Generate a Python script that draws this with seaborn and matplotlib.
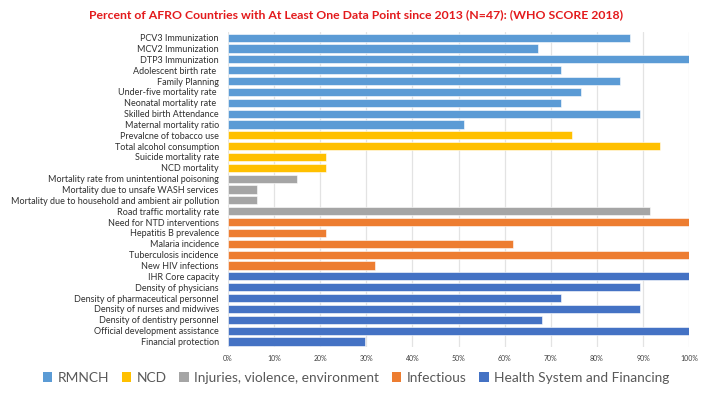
import matplotlib
matplotlib.use("Agg")
import matplotlib.pyplot as plt
import pandas as pd
import seaborn as sns
from matplotlib.patches import Patch

# Indicators, top to bottom
indicators = [
    "PCV3 Immunization", "MCV2 Immunization", "DTP3 Immunization",
    "Adolescent birth rate ", "Family Planning", "Under-five mortality rate ",
    "Neonatal mortality rate ", "Skilled birth Attendance", "Maternal mortality ratio",
    "Prevalcne of tobacco use", "Total alcohol consumption", "Suicide mortality rate",
    "NCD mortality", "Mortality rate from unintentional poisoning",
    "Mortality due to unsafe WASH services",
    "Mortality due to household and ambient air pollution",
    "Road traffic mortality rate", "Need for NTD interventions",
    "Hepatitis B prevalence", "Malaria incidence", "Tuberculosis incidence",
    "New HIV infections", "IHR Core capacity", "Density of physicians",
    "Density of pharmaceutical personnel", "Density of nurses and midwives",
    "Density of dentistry personnel", "Official development assistance",
    "Financial protection",
]
percent = [
    87.2, 67.3, 100, 72.3, 85.1, 76.6, 72.3, 89.4, 51.1,
    74.5, 93.6, 21.3, 21.3,
    14.9, 6.4, 6.4, 91.5,
    100, 21.3, 61.7, 100, 31.9,
    100, 89.4, 72.3, 89.4, 68.1, 100, 29.8,
]
groups = (["RMNCH"] * 9 + ["NCD"] * 4 + ["Injuries, violence, environment"] * 4
          + ["Infectious"] * 5 + ["Health System and Financing"] * 7)

group_names = ["RMNCH", "NCD", "Injuries, violence, environment", "Infectious",
               "Health System and Financing"]
group_colors = ["#5B9BD5", "#FFC000", "#A5A5A5", "#ED7D31", "#4472C4"]
palette = dict(zip(group_names, group_colors))

df = pd.DataFrame({"indicator": indicators, "percent": percent, "group": groups})

sns.set_style("white")
plt.rcParams["font.family"] = ["Lato", "DejaVu Sans"]

fig = plt.figure(figsize=(7.12, 3.97), dpi=100)
ax = fig.add_axes([0.320, 0.126, 0.648, 0.793])

sns.barplot(data=df, x="percent", y="indicator", hue="group", palette=palette,
            dodge=False, width=0.75, saturation=1, legend=False, ax=ax, zorder=3)
for p in ax.patches:
    p.set_edgecolor("white")
    p.set_linewidth(0.4)

ax.set_xlim(0, 100)
ax.set_xticks(range(0, 101, 10))
ax.set_xticklabels([f"{t}%" for t in range(0, 101, 10)], fontsize=5, color="#404040")
ax.tick_params(axis="y", labelsize=6.5, colors="#303030", length=0, pad=6.5)
ax.tick_params(axis="x", length=0, pad=6)
ax.xaxis.grid(True, color="#E3E3E3", linewidth=0.9, zorder=0)
ax.set_xlabel("")
ax.set_ylabel("")
for s in ax.spines.values():
    s.set_visible(False)

fig.text(0.5, 0.963,
         "Percent of AFRO Countries with At Least One Data Point since 2013 (N=47): (WHO SCORE 2018)",
         ha="center", va="center", fontsize=8.85, fontweight="bold", color="#E31A1C")

handles = [Patch(facecolor=c, edgecolor="none") for c in group_colors]
fig.legend(handles, group_names, loc="center", bbox_to_anchor=(0.5, 0.048), ncol=5,
           frameon=False, fontsize=9.9, labelcolor="#595959", handlelength=0.7,
           handleheight=0.7, handletextpad=0.4, columnspacing=0.9)

fig.savefig("out.png", dpi=100)
